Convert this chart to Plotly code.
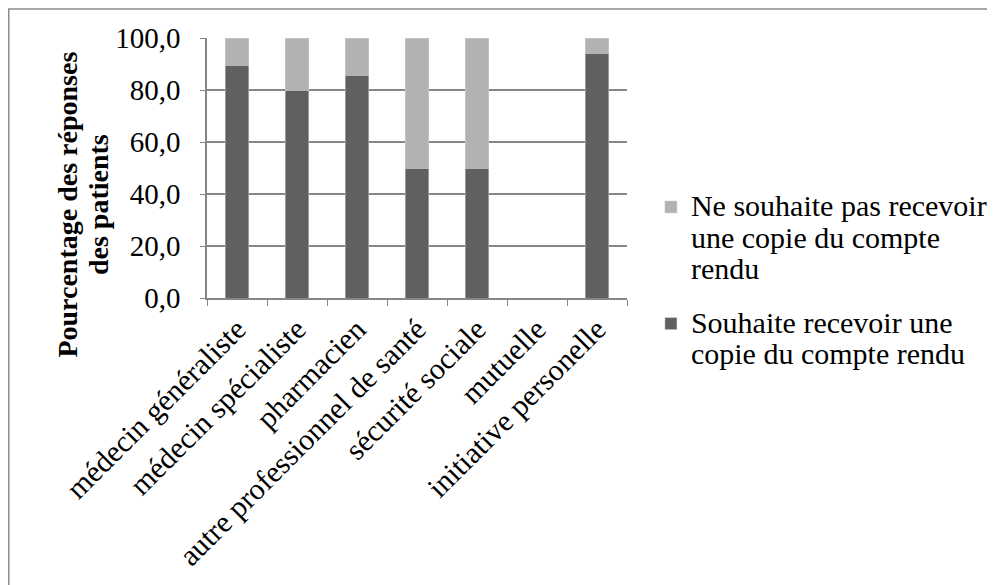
import plotly.graph_objects as go

categories = [
    "médecin généraliste",
    "médecin spécialiste",
    "pharmacien",
    "autre professionnel de santé",
    "sécurité sociale",
    "mutuelle",
    "initiative personelle",
]
souhaite = [89.5, 80.0, 85.7, 50.0, 50.0, 0.0, 94.1]
ne_souhaite_pas = [10.5, 20.0, 14.3, 50.0, 50.0, 0.0, 5.9]

dark = "#606060"
light = "#b2b2b2"
grid = "#868686"
font = "Liberation Serif, Times New Roman, serif"


def big(text, size=30):
    # larger glyphs while keeping the line spacing tight
    style = f"font-size:{size}px;font-family:'Liberation Serif','Times New Roman',serif"
    return "<br>".join(f'<span style="{style}">{t}</span>' for t in text.split("\n"))


fig = go.Figure()
fig.add_bar(
    x=categories,
    y=souhaite,
    name=big("Souhaite recevoir une\ncopie du compte rendu"),
    legendgroup="oui",
    legendrank=2,
    marker=dict(color=dark, line=dict(color="#d0d0d0", width=0.5)),
)
fig.add_bar(
    x=categories,
    y=ne_souhaite_pas,
    name=big("Ne souhaite pas recevoir\nune copie du compte\nrendu"),
    legendgroup="non",
    legendrank=1,
    marker=dict(color=light, line=dict(color="#d0d0d0", width=0.5)),
)

fig.update_layout(
    barmode="stack",
    bargap=0.61,
    width=995,
    height=585,
    margin=dict(l=199, r=376, t=30, b=295, autoexpand=False),
    paper_bgcolor="white",
    plot_bgcolor="white",
    separators=",.",
    font=dict(family=font, size=29, color="black"),
    showlegend=True,
    legend=dict(
        traceorder="grouped",
        x=1.057,
        xanchor="left",
        y=0.435,
        yanchor="top",
        valign="top",
        font=dict(family=font, size=24),
        itemwidth=30,
        tracegroupgap=20,
    ),
    shapes=[
        dict(
            type="rect", xref="paper", yref="paper",
            x0=-0.472, x1=1.871, y0=-1.2, y1=1.112,
            line=dict(color="#8c8c8c", width=1.5),
        )
    ],
    annotations=[
        dict(
            text="<b>" + big("Pourcentage des réponses\ndes patients", 28) + "</b>",
            xref="paper", yref="paper",
            x=-0.296, y=0.358,
            xanchor="center", yanchor="middle",
            textangle=-90,
            showarrow=False,
            font=dict(family=font, size=24),
        )
    ],
)

fig.update_yaxes(
    range=[0, 100],
    dtick=20,
    tickformat=".1f",
    showgrid=True,
    gridcolor=grid,
    gridwidth=1.5,
    showline=True,
    linecolor=grid,
    linewidth=1.5,
    ticks="outside",
    ticklen=5,
    tickcolor=grid,
    ticklabelstandoff=14,
    zeroline=False,
    automargin=False,
)
fig.update_xaxes(
    tickangle=-45,
    tickfont=dict(family=font, size=30),
    showline=True,
    linecolor=grid,
    linewidth=1.5,
    ticks="outside",
    tickson="boundaries",
    ticklen=6,
    tickcolor=grid,
    showgrid=False,
    automargin=False,
)

fig.write_html("out.html")
